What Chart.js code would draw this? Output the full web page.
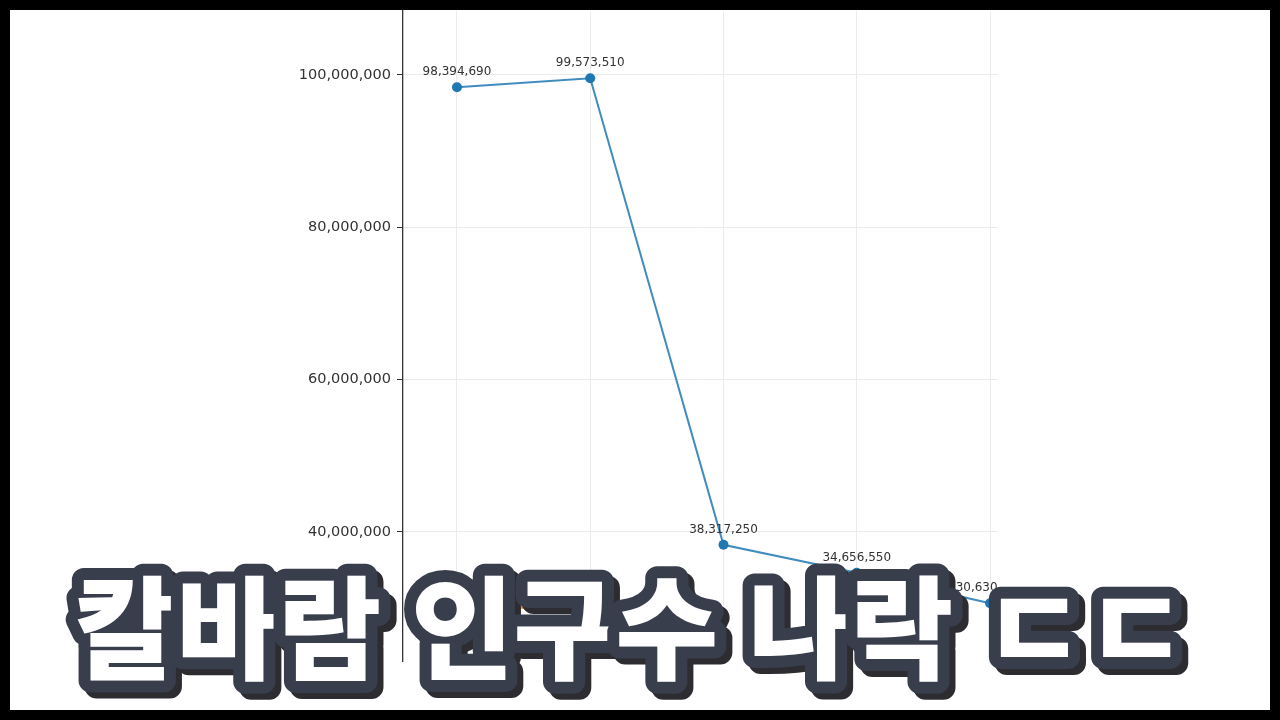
<!DOCTYPE html>
<html lang="ko">
<head>
<meta charset="utf-8">
<title>칼바람 인구수 나락</title>
<script src="https://cdn.jsdelivr.net/npm/chart.js@4.4.1/dist/chart.umd.min.js"></script>
<style>
  html, body { margin: 0; padding: 0; background: #000; }
  #wrap { position: relative; width: 1280px; height: 720px; background: #fff; overflow: hidden; }
  #chart { position: absolute; left: 0; top: 0; }
  #frame { position: absolute; left: 0; top: 0; width: 1280px; height: 720px;
           box-sizing: border-box; border: 10px solid #000; pointer-events: none; }
  #caption { position: absolute; left: 0; top: 0; pointer-events: none;
             filter: drop-shadow(6px 6px 0 #2c2c31); }
</style>
</head>
<body>
<div id="wrap">
  <canvas id="chart" width="1280" height="720"></canvas>
  <svg id="caption" width="1280" height="720">
    <text x="74" y="671" textLength="1114" lengthAdjust="spacing"
          font-family="Noto Sans CJK KR" font-weight="900" font-size="112"
          fill="#ffffff" stroke="#393e4d" stroke-width="24"
          stroke-linejoin="round" paint-order="stroke">칼바람 인구수 나락 ㄷㄷ</text>
  </svg>
  <div id="frame"></div>
</div>
<script>
// values (x labels are hidden below the caption)
const positions = [0, 1, 2, 3, 4];
const players = [98394690, 99573510, 38317250, 34656550, 30630460];
const secondPositions = [0, 1];
const secondSeries = [30050000, 30050000];
const yTicks = [40000000, 60000000, 80000000, 100000000];

const fmt = v => v.toLocaleString('en-US');

const valueLabels = {
    id: 'valueLabels',
    afterDatasetsDraw(chart) {
        const ctx = chart.ctx;
        const area = chart.chartArea;
        const meta = chart.getDatasetMeta(0);
        ctx.save();
        ctx.beginPath();
        ctx.rect(area.left, area.top, area.right - area.left, area.bottom - area.top);
        ctx.clip();
        ctx.font = '12px "DejaVu Sans"';
        ctx.fillStyle = '#333';
        ctx.textAlign = 'center';
        ctx.textBaseline = 'bottom';
        meta.data.forEach((pt, i) => {
            ctx.fillText(fmt(players[i]), pt.x, pt.y - 9);
        });
        ctx.restore();
    }
};

new Chart(document.getElementById('chart'), {
    type: 'line',
    data: {
        datasets: [{
            data: positions.map((x, i) => ({ x: x, y: players[i] })),
            borderColor: 'rgba(31,119,180,0.85)',
            backgroundColor: '#1f77b4',
            pointBackgroundColor: '#1f77b4',
            pointBorderWidth: 0,
            pointRadius: 5,
            borderWidth: 2,
            tension: 0,
            clip: false
        }, {
            data: secondPositions.map((x, i) => ({ x: x, y: secondSeries[i] })),
            borderColor: '#ff7f0e',
            pointBackgroundColor: '#ff7f0e',
            pointBorderWidth: 0,
            pointRadius: 5,
            borderWidth: 2,
            tension: 0
        }]
    },
    options: {
        responsive: false,
        animation: false,
        events: [],
        layout: { padding: { left: 0, right: 282, top: 11, bottom: 59 } },
        plugins: { legend: { display: false }, tooltip: { enabled: false } },
        scales: {
            x: {
                type: 'linear',
                min: -0.405,
                max: 4.06,
                afterFit: s => { s.height = 0; },
                afterBuildTicks: s => { s.ticks = positions.map(v => ({ value: v })); },
                ticks: { display: false },
                border: { display: false },
                grid: { color: '#ebebeb', lineWidth: 1, drawTicks: false }
            },
            y: {
                min: 23060000,
                max: 108400000,
                afterFit: s => { s.width = 403; s.paddingTop = 0; s.paddingBottom = 0; },
                afterBuildTicks: s => { s.ticks = yTicks.map(v => ({ value: v })); },
                ticks: {
                    color: '#333',
                    padding: 6,
                    font: { family: 'DejaVu Sans', size: 14.5 },
                    callback: v => fmt(v)
                },
                border: { display: true, color: '#333', width: 1.3 },
                grid: { color: '#ebebeb', lineWidth: 1, tickLength: 6, tickColor: '#333', tickWidth: 1 }
            }
        }
    },
    plugins: [valueLabels]
});
</script>
</body>
</html>
